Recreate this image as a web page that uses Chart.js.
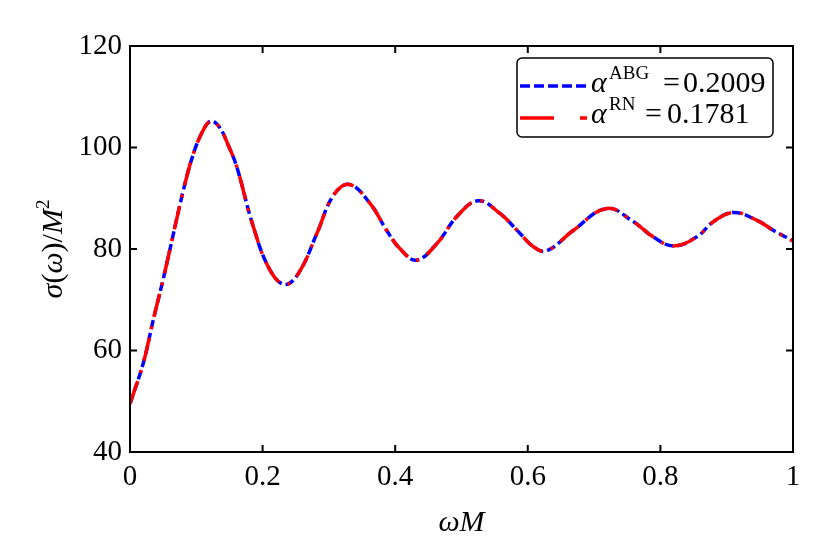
<!DOCTYPE html>
<html>
<head>
<meta charset="utf-8">
<script src="https://cdn.jsdelivr.net/npm/chart.js@4/dist/chart.umd.min.js"></script>
<style>
  body { margin: 0; background: #fff; }
  #wrap { position: relative; width: 830px; height: 554px; }
</style>
</head>
<body>
<div id="wrap"><canvas id="chart"></canvas></div>
<script>
// omega*M values
const omegaM = [0, 0.02, 0.035, 0.05, 0.06, 0.08, 0.095, 0.11, 0.122, 0.135, 0.148, 0.161, 0.186,
  0.211, 0.234, 0.256, 0.282, 0.307, 0.331, 0.362, 0.387, 0.407, 0.432, 0.463, 0.493, 0.525,
  0.558, 0.588, 0.608, 0.628, 0.669, 0.719, 0.759, 0.789, 0.82, 0.855, 0.88, 0.91, 0.945, 0.97, 1.0];

// sigma/M^2, alpha^ABG = 0.2009
const sigmaABG = [49.5, 57.5, 66.0, 74.0, 79.8, 91.3, 98.5, 103.3, 105.2, 104.0, 100.5, 96.2, 84.4,
  75.9, 73.0, 75.6, 83.1, 90.6, 92.7, 89.0, 83.7, 80.1, 77.8, 81.1, 86.4, 89.5,
  87.0, 83.1, 80.5, 79.6, 83.7, 88.0, 85.4, 82.4, 80.6, 82.4, 85.4, 87.2, 85.7, 83.7, 81.6];

// sigma/M^2, alpha^RN = 0.1781 (lies on top of the ABG curve)
const sigmaRN = [49.5, 57.5, 66.0, 74.0, 79.8, 91.3, 98.5, 103.3, 105.2, 104.0, 100.5, 96.2, 84.4,
  75.9, 73.0, 75.6, 83.1, 90.6, 92.7, 89.0, 83.7, 80.1, 77.8, 81.1, 86.4, 89.5,
  87.0, 83.1, 80.5, 79.6, 83.7, 88.0, 85.4, 82.4, 80.6, 82.4, 85.4, 87.2, 85.7, 83.7, 81.6];

const xTickValues = [0, 0.2, 0.4, 0.6, 0.8, 1];
const xTickLabels = ["0", "0.2", "0.4", "0.6", "0.8", "1"];
const yTickValues = [40, 60, 80, 100, 120];
const yTickLabels = ["40", "60", "80", "100", "120"];

const SERIF = "'Liberation Serif', 'Times New Roman', serif";

// draw a row of text pieces with different styles
function drawRuns(ctx, runs, x, y) {
  let cx = x;
  runs.forEach(r => {
    ctx.font = r.font;
    if (r.x !== undefined) cx = r.x;
    ctx.fillText(r.text, cx, y - (r.rise || 0));
    cx += ctx.measureText(r.text).width;
  });
  return cx;
}
function runsWidth(ctx, runs) {
  let w = 0;
  runs.forEach(r => { ctx.font = r.font; w += ctx.measureText(r.text).width; });
  return w;
}

const framePlugin = {
  id: "frame",
  afterDraw(chart) {
    const ctx = chart.ctx;
    const a = chart.chartArea;
    const xs = chart.scales.x, ys = chart.scales.y;
    ctx.save();
    ctx.strokeStyle = "#000";
    ctx.lineWidth = 2;
    ctx.setLineDash([]);
    ctx.strokeRect(a.left, a.top, a.right - a.left, a.bottom - a.top);
    const tl = 7;
    ctx.beginPath();
    xTickValues.forEach(v => {
      const px = xs.getPixelForValue(v);
      ctx.moveTo(px, a.bottom); ctx.lineTo(px, a.bottom - tl);
      ctx.moveTo(px, a.top); ctx.lineTo(px, a.top + tl);
    });
    yTickValues.forEach(v => {
      const py = ys.getPixelForValue(v);
      ctx.moveTo(a.left, py); ctx.lineTo(a.left + tl, py);
      ctx.moveTo(a.right, py); ctx.lineTo(a.right - tl, py);
    });
    ctx.stroke();

    // axis titles
    ctx.fillStyle = "#000";
    ctx.textBaseline = "alphabetic";
    const xRuns = [
      { text: "\u03C9M", font: "italic 30px " + SERIF }
    ];
    const xw = runsWidth(ctx, xRuns);
    drawRuns(ctx, xRuns, (a.left + a.right) / 2 - xw / 2, 531);

    const yRuns = [
      { text: "\u03C3", font: "italic 30px " + SERIF },
      { text: "(", font: "30px " + SERIF },
      { text: "\u03C9", font: "italic 30px " + SERIF },
      { text: ")/", font: "30px " + SERIF },
      { text: "M", font: "italic 30px " + SERIF },
      { text: "2", font: "19px " + SERIF, rise: 13 }
    ];
    const yw = runsWidth(ctx, yRuns);
    ctx.save();
    ctx.translate(62, (a.top + a.bottom) / 2);
    ctx.rotate(-Math.PI / 2);
    drawRuns(ctx, yRuns, -yw / 2, 0);
    ctx.restore();

    // legend box
    const lx = 517, ly = 58, lw = 256, lh = 79, r = 5;
    ctx.fillStyle = "#fff";
    ctx.beginPath();
    ctx.moveTo(lx + r, ly);
    ctx.arcTo(lx + lw, ly, lx + lw, ly + lh, r);
    ctx.arcTo(lx + lw, ly + lh, lx, ly + lh, r);
    ctx.arcTo(lx, ly + lh, lx, ly, r);
    ctx.arcTo(lx, ly, lx + lw, ly, r);
    ctx.closePath();
    ctx.fill();
    ctx.lineWidth = 1.5;
    ctx.stroke();

    ctx.lineWidth = 3.5;
    ctx.strokeStyle = "#0000ff";
    ctx.setLineDash([10, 4]);
    ctx.beginPath(); ctx.moveTo(520, 86); ctx.lineTo(587, 86); ctx.stroke();
    ctx.strokeStyle = "#ff0000";
    ctx.setLineDash([34, 26, 7, 26]);
    ctx.beginPath(); ctx.moveTo(520, 118); ctx.lineTo(587, 118); ctx.stroke();
    ctx.setLineDash([]);

    ctx.fillStyle = "#000";
    drawRuns(ctx, [
      { text: "\u03B1", font: "italic 30px " + SERIF, x: 591 },
      { text: "ABG", font: "19px " + SERIF, rise: 13, x: 609 },
      { text: "=", font: "30px " + SERIF, x: 663 },
      { text: "0.2009", font: "30px " + SERIF, x: 683 }
    ], 591, 92);
    drawRuns(ctx, [
      { text: "\u03B1", font: "italic 30px " + SERIF, x: 591 },
      { text: "RN", font: "19px " + SERIF, rise: 13, x: 609 },
      { text: "=", font: "30px " + SERIF, x: 645 },
      { text: "0.1781", font: "30px " + SERIF, x: 667 }
    ], 591, 123);
    ctx.restore();
  }
};

const ctx = document.getElementById("chart").getContext("2d");

new Chart(ctx, {
  type: "line",
  data: {
    datasets: [
      {
        label: "alpha RN = 0.1781",
        data: omegaM.map((x, i) => ({ x: x, y: sigmaRN[i] })),
        borderColor: "#ff0000",
        borderWidth: 3.5,
        borderDash: [24, 9, 3, 9],
        pointRadius: 0,
        fill: false,
        tension: 0.4,
        order: 0
      },
      {
        label: "alpha ABG = 0.2009",
        data: omegaM.map((x, i) => ({ x: x, y: sigmaABG[i] })),
        borderColor: "#0000ff",
        borderWidth: 3.5,
        borderDash: [9, 4],
        pointRadius: 0,
        fill: false,
        tension: 0.4,
        order: 1
      }
    ]
  },
  options: {
    responsive: true,
    maintainAspectRatio: false,
    animation: false,
    layout: { padding: { top: 46, right: 37, left: 0, bottom: 0 } },
    plugins: {
      legend: { display: false },
      tooltip: { enabled: false }
    },
    scales: {
      x: {
        type: "linear",
        min: 0,
        max: 1,
        afterBuildTicks: s => { s.ticks = xTickValues.map(v => ({ value: v })); },
        afterFit: s => { s.height = 102; },
        ticks: {
          callback: (v, i) => xTickLabels[i],
          font: { family: SERIF, size: 29 },
          color: "#000",
          padding: 8,
          maxRotation: 0,
          autoSkip: false
        },
        grid: { display: false, drawTicks: false },
        border: { display: false }
      },
      y: {
        type: "linear",
        min: 40,
        max: 120,
        afterBuildTicks: s => { s.ticks = yTickValues.map(v => ({ value: v })); },
        afterFit: s => { s.width = 130; },
        ticks: {
          callback: (v, i) => yTickLabels[i],
          font: { family: SERIF, size: 29 },
          color: "#000",
          padding: 8
        },
        grid: { display: false, drawTicks: false },
        border: { display: false }
      }
    }
  },
  plugins: [framePlugin]
});
</script>
</body>
</html>
